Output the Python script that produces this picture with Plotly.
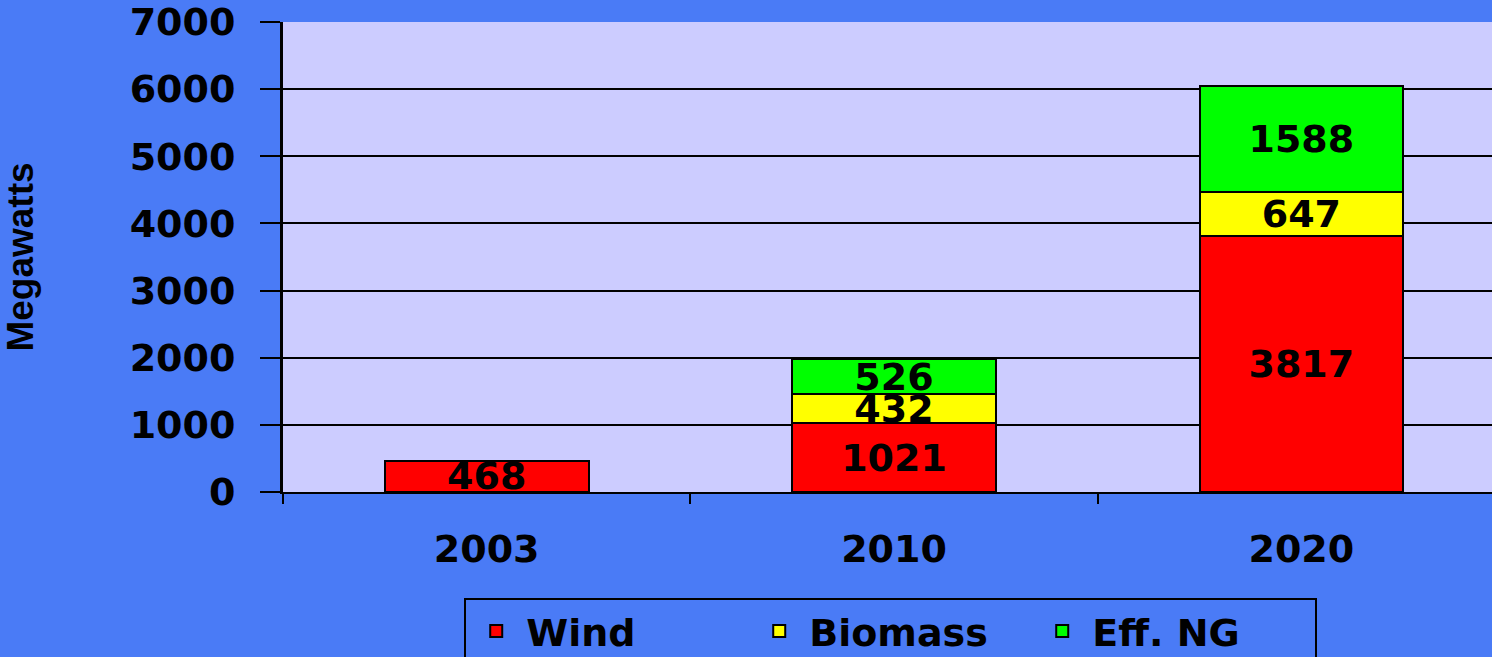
import plotly.graph_objects as go

years = ["2003", "2010", "2020"]
wind = [468, 1021, 3817]
biomass = [None, 432, 647]
eff_ng = [None, 526, 1588]
series_names = ["Wind", "Biomass", "Eff. NG"]
series_colors = ["#FF0000", "#FFFF00", "#00FF00"]
y_ticks = [0, 1000, 2000, 3000, 4000, 5000, 6000, 7000]

FONT = "DejaVu Sans"
SIZE = 38
bold_font = dict(family=FONT, size=SIZE, color="black", weight="bold")

fig = go.Figure()
series = [wind, biomass, eff_ng]
for name, vals, col in zip(series_names, series, series_colors):
    fig.add_trace(go.Bar(
        x=years, y=vals, name=name,
        marker=dict(color=col, line=dict(color="black", width=2)),
        width=0.5,
        text=[("" if v is None else str(v)) for v in vals],
        textposition="inside", insidetextanchor="middle",
        textangle=0, textfont=bold_font, insidetextfont=bold_font,
        cliponaxis=False, hoverinfo="x+y+name",
    ))

fig.update_layout(
    barmode="stack",
    width=1492, height=657,
    margin=dict(l=283, r=0, t=22, b=165),
    paper_bgcolor="#4A7BF6",
    plot_bgcolor="#CCCCFF",
    font=bold_font,
    uniformtext=dict(minsize=SIZE, mode="show"),
    showlegend=True,
    legend=dict(
        orientation="h", xref="container", yref="container",
        x=0.597, xanchor="center", y=0.09, yanchor="top",
        bgcolor="rgba(0,0,0,0)", bordercolor="black", borderwidth=2,
        font=bold_font, traceorder="normal",
        itemwidth=50, entrywidth=218, entrywidthmode="pixels",
    ),
)

fig.update_xaxes(
    range=[-0.5, 2.468], showline=True, linecolor="black", linewidth=2,
    ticks="outside", tickson="boundaries", ticklen=10, tickwidth=2, tickcolor="black",
    ticklabelstandoff=22, showgrid=False, tickfont=bold_font,
)
fig.update_yaxes(
    range=[0, 7000], tickvals=y_ticks, ticktext=[str(t) for t in y_ticks],
    showline=True, linecolor="black", linewidth=3,
    ticks="outside", ticklen=20, tickwidth=2, tickcolor="black",
    ticklabelstandoff=17,
    showgrid=True, gridcolor="black", gridwidth=2, zeroline=False,
    tickfont=bold_font,
    title=dict(text="Megawatts", standoff=85,
               font=dict(family="Liberation Sans", size=37, color="black", weight="bold")),
)

fig.write_html("out.html", config={"displayModeBar": False},
               post_script="document.body.style.margin='0';document.body.style.overflow='hidden';")
